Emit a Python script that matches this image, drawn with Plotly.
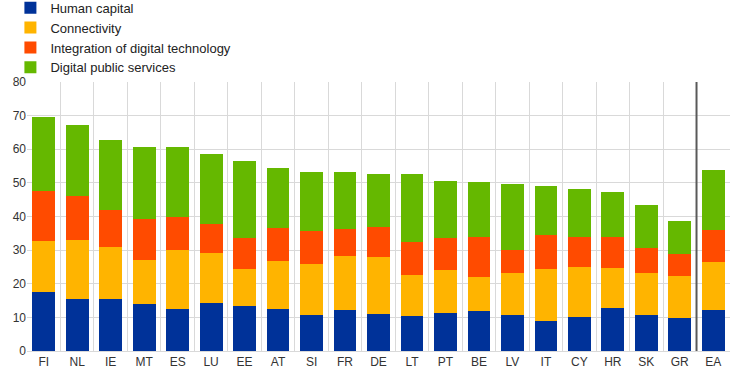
import plotly.graph_objects as go

countries = ["FI", "NL", "IE", "MT", "ES", "LU", "EE", "AT", "SI", "FR", "DE",
             "LT", "PT", "BE", "LV", "IT", "CY", "HR", "SK", "GR", "EA"]
human_capital = [17.6, 15.5, 15.5, 14.0, 12.5, 14.3, 13.4, 12.5, 10.7, 12.2, 11.0,
                 10.4, 11.3, 11.9, 10.7, 8.9, 10.1, 12.8, 10.7, 9.8, 12.2]
connectivity = [15.2, 17.6, 15.5, 13.1, 17.6, 14.9, 11.0, 14.3, 15.2, 16.1, 17.0,
                12.2, 12.8, 10.1, 12.5, 15.5, 14.9, 11.9, 12.5, 12.5, 14.3]
integration = [14.9, 13.1, 10.8, 12.3, 9.9, 8.6, 9.2, 9.8, 9.9, 8.1, 9.0,
               9.7, 9.5, 11.9, 6.7, 10.2, 9.0, 9.3, 7.3, 6.6, 9.5]
public_services = [22.0, 21.1, 21.0, 21.3, 20.7, 20.9, 23.0, 17.9, 17.5, 16.9, 15.7,
                   20.4, 17.0, 16.4, 19.8, 14.5, 14.2, 13.3, 13.0, 9.8, 17.9]

series = [
    ("Human capital", human_capital, "#003299"),
    ("Connectivity", connectivity, "#FFB400"),
    ("Integration of digital technology", integration, "#FF4B00"),
    ("Digital public services", public_services, "#65B800"),
]

fig = go.Figure()
for name, vals, col in series:
    fig.add_trace(go.Bar(x=countries, y=vals, name=name, marker_color=col,
                         marker_line_width=0))

sep = len(countries) - 1.5
fig.add_shape(type="line", xref="x", yref="paper", x0=sep, x1=sep, y0=0, y1=1,
              line=dict(color="#595959", width=2))

fig.update_layout(
    barmode="stack",
    bargap=0.32,
    width=744, height=379,
    margin=dict(l=27, r=14, t=82, b=28, autoexpand=False),
    plot_bgcolor="white", paper_bgcolor="white",
    font=dict(family="Liberation Sans, Arial, sans-serif", size=12, color="#333333"),
    legend=dict(orientation="v", traceorder="normal", x=-0.0236, xanchor="left",
                y=1.332, yanchor="top", font=dict(size=13, color="#222222"),
                itemwidth=30, tracegroupgap=0, bgcolor="rgba(0,0,0,0)"),
    xaxis=dict(tickson="boundaries", showgrid=True, gridcolor="#d9d9d9", gridwidth=1,
               ticks="", showline=True, linecolor="#d9d9d9", mirror=False,
               automargin=False, tickfont=dict(size=12, color="#333333")),
    yaxis=dict(range=[0, 80], dtick=10, showgrid=True, gridcolor="#d9d9d9",
               gridwidth=1, zeroline=False, showline=False, ticks="",
               automargin=False, tickfont=dict(size=12, color="#333333")),
)

fig.write_html("out.html", config={"displayModeBar": False},
               post_script="document.body.style.margin='0px';")
